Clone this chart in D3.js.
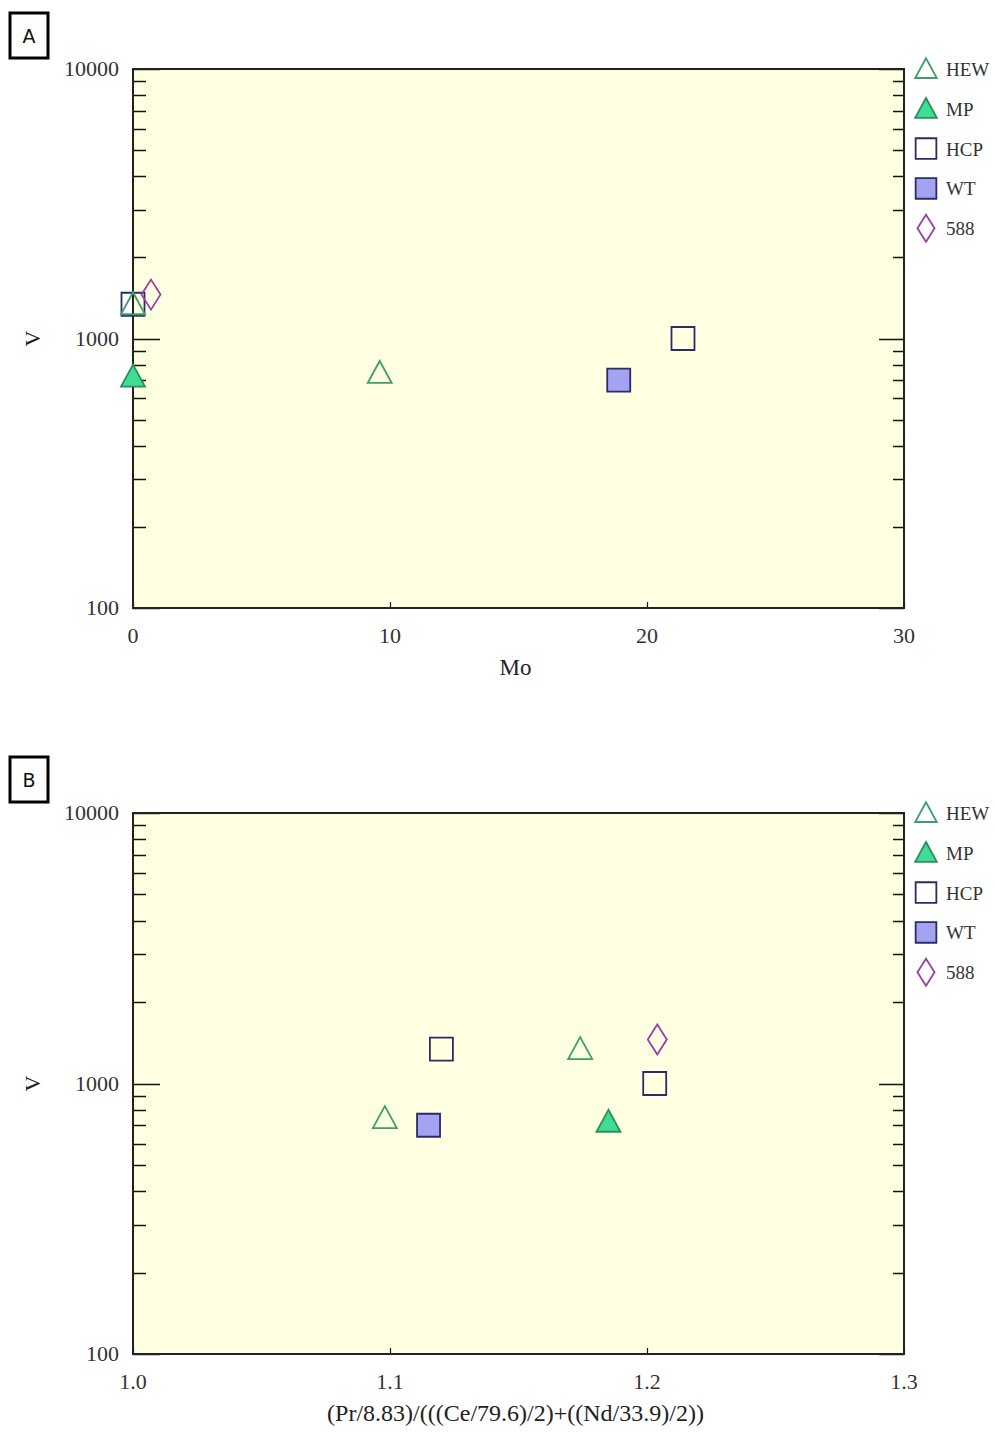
<!DOCTYPE html>
<html>
<head>
<meta charset="utf-8">
<script src="https://cdn.jsdelivr.net/npm/d3@7"></script>
<style>
  html, body { margin: 0; padding: 0; background: #ffffff; }
  svg { display: block; }
</style>
</head>
<body>
<svg id="chart" width="995" height="1432"></svg>
<script>
// Sample groups and their V (ppm) values
const groups = ["HEW", "MP", "HCP", "WT", "588"];
const vHEW = [1340, 745];
const vMP = [722];
const vHCP = [1340, 1000];
const vWT = [701];
const v588 = [1455];

// Mo (ppm) for each sample, same order as the V arrays
const moHEW = [0, 9.6];
const moMP = [0];
const moHCP = [0, 21.4];
const moWT = [18.9];
const mo588 = [0.7];

// Pr anomaly ratio (Pr/8.83)/(((Ce/79.6)/2)+((Nd/33.9)/2))
const prHEW = [1.174, 1.098];
const prMP = [1.185];
const prHCP = [1.12, 1.203];
const prWT = [1.115];
const pr588 = [1.204];

const xTicksA = [0, 10, 20, 30];
const xTicksB = [1.0, 1.1, 1.2, 1.3];
const yTickLabels = [100, 1000, 10000];

const styles = {
  HEW: { shape: "tri", fill: "none", stroke: "#3f9f6a" },
  MP:  { shape: "tri", fill: "#3fdc96", stroke: "#2c8f5a" },
  HCP: { shape: "sq",  fill: "none", stroke: "#2b2b66" },
  WT:  { shape: "sq",  fill: "#a3a3f2", stroke: "#2b2b66" },
  "588": { shape: "dia", fill: "none", stroke: "#9b3fa6" }
};

function shapePath(shape, s) {
  if (shape === "tri") {
    const w = 12 * s, t = 12 * s, b = 10 * s;
    return `M0,${-t}L${w},${b}L${-w},${b}Z`;
  }
  if (shape === "sq") {
    const h = 11.5 * s;
    return `M${-h},${-h}H${h}V${h}H${-h}Z`;
  }
  const w = 9.5 * s, h = 15 * s;
  return `M0,${-h}L${w},0L0,${h}L${-w},0Z`;
}

const svg = d3.select("#chart");
const serif = "'Liberation Serif', 'Times New Roman', serif";

const left = 133, right = 904;

function panel(cfg) {
  const g = svg.append("g");
  const x = d3.scaleLinear().domain(cfg.xDomain).range([left, right]);
  const y = d3.scaleLog().domain([100, 10000]).range([cfg.bottom, cfg.top]);

  // plot background
  g.append("rect")
    .attr("x", left).attr("y", cfg.top)
    .attr("width", right - left).attr("height", cfg.bottom - cfg.top)
    .attr("fill", "#ffffe1");

  // log ticks on both vertical sides, pointing inward
  const yt = y.ticks();
  yt.forEach(v => {
    const major = Math.abs(Math.log10(v) - Math.round(Math.log10(v))) < 1e-9;
    const yy = Math.round(y(v)) + 0.5;
    g.append("line").attr("x1", left).attr("x2", left + (major ? 27 : 13))
      .attr("y1", yy).attr("y2", yy).attr("stroke", "#111").attr("stroke-width", 1.5);
    g.append("line").attr("x1", right).attr("x2", right - (major ? 25 : 11))
      .attr("y1", yy).attr("y2", yy).attr("stroke", "#111").attr("stroke-width", 1.5);
  });

  // bottom ticks, pointing inward
  cfg.xTicks.forEach(v => {
    const xx = Math.round(x(v)) + 0.5;
    g.append("line").attr("x1", xx).attr("x2", xx)
      .attr("y1", cfg.bottom).attr("y2", cfg.bottom - 6)
      .attr("stroke", "#111").attr("stroke-width", 1.2);
  });

  // frame
  g.append("rect")
    .attr("x", left).attr("y", cfg.top)
    .attr("width", right - left).attr("height", cfg.bottom - cfg.top)
    .attr("fill", "none").attr("stroke", "#222").attr("stroke-width", 2);

  // y tick labels
  yTickLabels.forEach(v => {
    g.append("text").attr("x", 119).attr("y", y(v) + 7)
      .attr("text-anchor", "end").attr("font-family", serif)
      .attr("font-size", 22).attr("fill", "#333").text(v);
  });

  // x tick labels
  cfg.xTicks.forEach(v => {
    g.append("text").attr("x", x(v)).attr("y", cfg.bottom + 35)
      .attr("text-anchor", "middle").attr("font-family", serif)
      .attr("font-size", 22).attr("fill", "#333").text(cfg.fmt(v));
  });

  // axis titles
  g.append("text").attr("x", (left + right) / 2 - 3).attr("y", cfg.bottom + 67)
    .attr("text-anchor", "middle").attr("font-family", serif)
    .attr("font-size", cfg.titleSize).attr("fill", "#222").text(cfg.xTitle);
  g.append("text")
    .attr("transform", `translate(40,${y(1000)}) rotate(-90)`)
    .attr("text-anchor", "middle").attr("font-family", serif)
    .attr("font-size", 22).attr("fill", "#222").text("V");

  // panel letter box
  g.append("rect").attr("x", 10).attr("y", cfg.top - 56)
    .attr("width", 38).attr("height", 45)
    .attr("fill", "#fff").attr("stroke", "#000").attr("stroke-width", 3);
  g.append("text").attr("x", 29).attr("y", cfg.top - 26)
    .attr("text-anchor", "middle").attr("font-family", "'DejaVu Sans', sans-serif")
    .attr("font-size", 19).attr("fill", "#111").text(cfg.letter);

  // data points: squares first, then triangles and diamonds on top
  const drawOrder = ["HCP", "WT", "HEW", "MP", "588"];
  drawOrder.forEach(name => {
    const s = cfg.series.find(d => d.name === name);
    const st = styles[name];
    s.xs.forEach((xv, i) => {
      g.append("path")
        .attr("d", shapePath(st.shape, 1))
        .attr("transform", `translate(${x(xv)},${y(s.vs[i])})`)
        .attr("fill", st.fill).attr("stroke", st.stroke).attr("stroke-width", 1.8);
    });
  });

  // legend
  groups.forEach((name, i) => {
    const st = styles[name];
    const ly = cfg.top + i * 39.8;
    g.append("path")
      .attr("d", shapePath(st.shape, 0.9))
      .attr("transform", `translate(926,${ly})`)
      .attr("fill", st.fill === "none" ? "#ffffff" : st.fill)
      .attr("stroke", st.stroke).attr("stroke-width", 1.8);
    g.append("text").attr("x", 946).attr("y", ly + 7)
      .attr("font-family", serif).attr("font-size", 19)
      .attr("fill", "#333").text(name);
  });
}

panel({
  letter: "A", top: 69, bottom: 608,
  xDomain: [0, 30], xTicks: xTicksA, fmt: d3.format("d"), xTitle: "Mo", titleSize: 23,
  series: [
    { name: "HEW", xs: moHEW, vs: vHEW },
    { name: "MP", xs: moMP, vs: vMP },
    { name: "HCP", xs: moHCP, vs: vHCP },
    { name: "WT", xs: moWT, vs: vWT },
    { name: "588", xs: mo588, vs: v588 }
  ]
});

panel({
  letter: "B", top: 813, bottom: 1354,
  xDomain: [1.0, 1.3], xTicks: xTicksB, fmt: d3.format(".1f"),
  xTitle: "(Pr/8.83)/(((Ce/79.6)/2)+((Nd/33.9)/2))", titleSize: 24,
  series: [
    { name: "HEW", xs: prHEW, vs: vHEW },
    { name: "MP", xs: prMP, vs: vMP },
    { name: "HCP", xs: prHCP, vs: vHCP },
    { name: "WT", xs: prWT, vs: vWT },
    { name: "588", xs: pr588, vs: v588 }
  ]
});
</script>
</body>
</html>
